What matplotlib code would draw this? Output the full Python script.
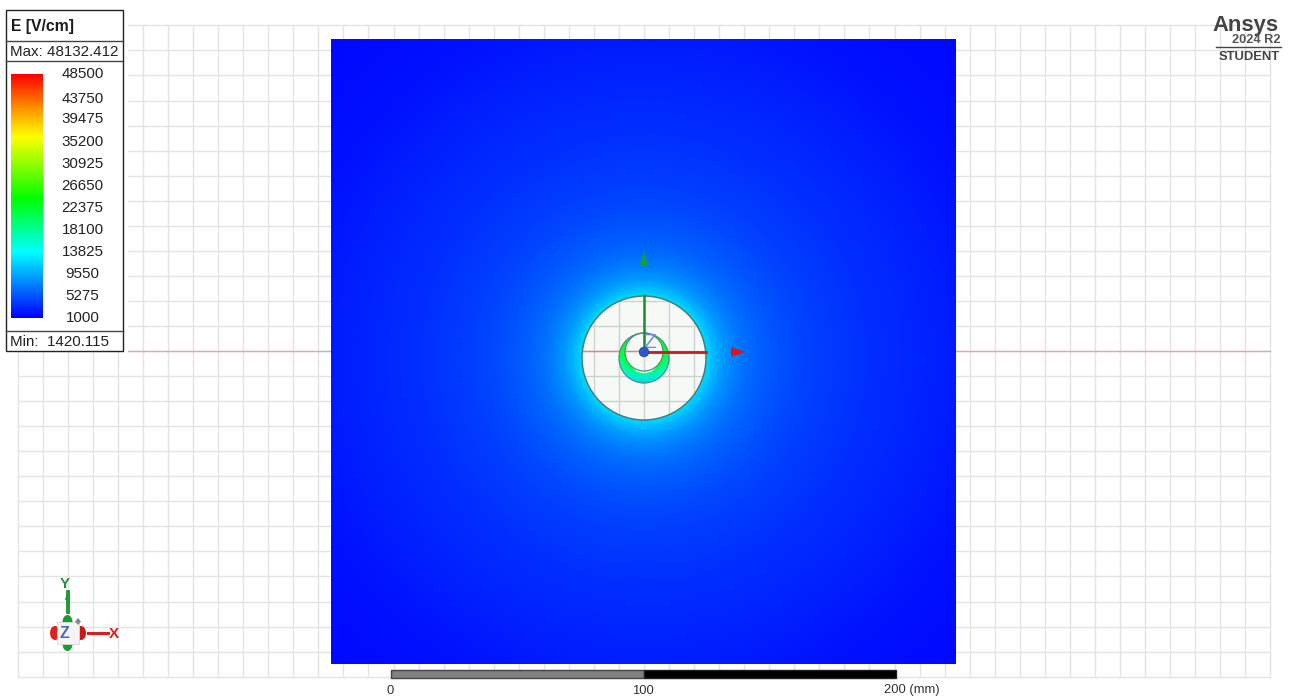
import numpy as np
import matplotlib
matplotlib.use("Agg")
import matplotlib.pyplot as plt
from matplotlib.colors import LinearSegmentedColormap, Normalize
from matplotlib.patches import Circle, Rectangle, Polygon, Ellipse
from matplotlib.path import Path
from matplotlib.patches import PathPatch

plt.rcParams["font.family"] = ["Liberation Sans", "DejaVu Sans"]

# legend
legend_labels = ["48500", "43750", "39475", "35200", "30925", "26650",
                 "22375", "18100", "13825", "9550", "5275", "1000"]
legend_y = [74, 98.5, 118.5, 142, 164, 185.5, 208, 229, 252, 274, 296, 318]
legend_title = "E [V/cm]"
max_text = "Max: 48132.412"
min_text = "Min:  1420.115"

# colour scale, levels
cmap_levels = [1000, 13825, 24300, 36300, 42000, 48500]
cmap_colors = ["#0000ff", "#00ffff", "#00ff00", "#ffff00", "#ff9000", "#ff0000"]

# field outside the conductor: distance from centre (px) and E value
field_r = [55, 62, 66, 72, 80, 90, 100, 115, 130, 150, 175, 200, 230, 260, 300, 350, 400, 470]
field_e = [12000, 12000, 11200, 9900, 8600, 7500, 6700, 5900, 5300, 4700, 4100, 3700, 3300, 2950, 2500, 2000, 1600, 1420]

# crescent field: rows = radius (inner, outer), columns = angle from +x (deg)
crescent_theta = [-90, -60, -30, 0, 30, 60, 80, 90, 100, 120, 150, 180, 210, 240, 270]
crescent_inner = [17500, 19000, 22000, 25000, 25000, 24000, 24000, 24000, 24000, 24000, 25000, 25000, 22000, 19000, 17500]
crescent_outer = [11500, 12500, 15000, 19000, 22500, 23000, 23000, 23000, 23000, 23000, 22500, 19000, 15000, 12500, 11500]

# scale bar
scale_ticks = ["0", "100", "200 (mm)"]

W, H = 1290, 698
CX, CY = 644, 351
STEP = 25.05

fig = plt.figure(figsize=(W / 100, H / 100), dpi=100)
ax = fig.add_axes([0, 0, 1, 1])
ax.set_xlim(0, W)
ax.set_ylim(H, 0)
ax.axis("off")

norm = Normalize(1000, 48500)
cmap = LinearSegmentedColormap.from_list(
    "ansys", [((v - 1000) / 47500, c) for v, c in zip(cmap_levels, cmap_colors)], N=512)

# background grid
grid_c = "#e4e4e4"
xs = [CX + STEP * k for k in range(-25, 26)]
ys = [CY + STEP * k for k in range(-13, 14)]
for x in xs:
    ax.plot([x, x], [ys[0], ys[-1]], color=grid_c, lw=1, zorder=1)
for y in ys:
    ax.plot([xs[0], xs[-1]], [y, y], color=grid_c, lw=1, zorder=1)
ax.plot([128, 1270], [CY, CY], color="#e6a6a6", lw=1, zorder=1.5)
# white block behind the legend
ax.add_patch(Rectangle((0, 0), 128, 352, fc="white", ec="none", zorder=2))

# field square
th = np.radians(np.linspace(0, 360, 145))
R, T = np.meshgrid(field_r, th)
FX = 644 + R * np.cos(T)
FY = 358 + R * np.sin(T)
FE = np.tile(field_e, (len(th), 1))
square = Rectangle((331, 39), 625, 625, fc="none", ec="none", zorder=3)
ax.add_patch(square)
mesh = ax.pcolormesh(FX, FY, FE, shading="gouraud", cmap=cmap, norm=norm, zorder=3)
mesh.set_clip_path(square)

# insulator disk with the grid showing through
disk = Circle((644, 358), 62, fc="#f6f9f6", ec="none", zorder=4)
ax.add_patch(disk)
for x in xs:
    line, = ax.plot([x, x], [ys[0], ys[-1]], color="#cdd3cd", lw=1, zorder=4.1)
    line.set_clip_path(disk)
for y in ys:
    line, = ax.plot([xs[0], xs[-1]], [y, y], color="#cdd3cd", lw=1, zorder=4.1)
    line.set_clip_path(disk)
ax.plot([582, 644], [CY, CY], color="#d08a8a", lw=1, zorder=4.2)
ax.add_patch(Circle((644, 358), 62, fc="none", ec="#3f7f80", lw=1.1, zorder=4.3))

# crescent between outer conductor and the inner one
outer = Path.circle((644, 358), 25)
inner = Path.circle((644, 352), 19)
inner_rev = Path(inner.vertices[::-1], inner.codes)
crescent = Path.make_compound_path(outer, inner_rev)
cres_patch = PathPatch(crescent, fc="none", ec="none", transform=ax.transData, zorder=5)
ax.add_patch(cres_patch)
ct = np.radians(crescent_theta)
CR, CT = np.meshgrid([16, 25], ct)
# angle is measured upward on screen, hence the minus on y
mesh2 = ax.pcolormesh(644 + CR * np.cos(CT), 358 - CR * np.sin(CT),
                      np.column_stack([crescent_inner, crescent_outer]),
                      shading="gouraud", cmap=cmap, norm=norm, zorder=5)
mesh2.set_clip_path(cres_patch)
ax.add_patch(Circle((644, 358), 25, fc="none", ec="#4f8f80", lw=0.9, zorder=5.1))
ax.add_patch(Circle((644, 352), 19, fc="none", ec="#4f8f80", lw=0.9, zorder=5.1))

# centre triad
ax.plot([643.5, 643.5], [295, 351], color="#1f8a2e", lw=1.8, zorder=6)
ax.plot([644, 706], [352, 352], color="#d01818", lw=2, zorder=6)
ax.add_patch(Polygon([[640, 265], [644, 251], [648, 265]], fc="#14a030", ec="none", zorder=6))
ax.add_patch(Polygon([[731, 347], [745, 352], [731, 357]], fc="#dd1515", ec="none", zorder=6))
ax.text(650, 343, "Z", color="#6f8fe0", fontsize=15, ha="center", va="center", zorder=6.5)
ax.add_patch(Circle((644, 352), 4.8, fc="#2f55c8", ec="#20409a", lw=0.5, zorder=7))

# legend box
ax.add_patch(Rectangle((5.5, 10), 117, 341, fc="white", ec="#222222", lw=1, zorder=8))
for y in [41, 61, 330.5]:
    ax.plot([5.5, 122.5], [y, y], color="#444444", lw=1, zorder=8.1)
ax.text(11, 26, legend_title, fontsize=11.3, fontweight="bold", color="#1c1c1c", va="center", zorder=9)
ax.text(10, 51.5, max_text, fontsize=10.9, color="#222222", va="center", zorder=9)
ax.text(10, 341.5, min_text, fontsize=10.9, color="#222222", va="center", zorder=9)
bar_vals = np.linspace(48500, 1000, 256).reshape(-1, 1)
ax.imshow(bar_vals, extent=(11, 43, 318, 74), cmap=cmap, norm=norm, aspect="auto", zorder=9)
ax.set_xlim(0, W)
ax.set_ylim(H, 0)
for lab, y in zip(legend_labels, legend_y):
    ax.text(82.5, y + 0.5, lab, fontsize=10.9, color="#222222", ha="center", va="center", zorder=9)

# logo text
ax.text(1279, 25.5, "Ansys", fontsize=15.8, fontweight="bold", color="#444444", ha="right", va="center", zorder=9)
ax.text(1280, 40, "2024 R2", fontsize=9.2, fontweight="bold", color="#555555", ha="right", va="center", zorder=9)
ax.plot([1216, 1281], [47, 47], color="#444444", lw=1, zorder=9)
ax.text(1279.5, 57.5, "STUDENT", fontsize=9.4, fontweight="bold", color="#444444", ha="right", va="center", zorder=9)

# bottom-left triad
ax.plot([67.5, 67.5], [592, 612], color="#1f9a35", lw=2.8, zorder=6)
ax.add_patch(Polygon([[65, 600], [67.5, 590], [70, 600]], fc="#1f9a35", ec="none", zorder=6))
ax.add_patch(Ellipse((67.5, 622), 10, 14, fc="#1a9a30", ec="none", zorder=6))
ax.add_patch(Ellipse((67.5, 644), 10, 14, fc="#1a9a30", ec="none", zorder=6))
ax.add_patch(Ellipse((55, 633), 10, 14, fc="#dd2222", ec="none", zorder=6))
ax.add_patch(Ellipse((81, 633), 10, 14, fc="#c81818", ec="none", zorder=6))
ax.add_patch(Rectangle((57, 622), 22, 22, fc="#f4f4f4", ec="#d8d8d8", lw=0.6, zorder=6.5))
ax.plot([88, 108], [632.5, 632.5], color="#d62020", lw=2.2, zorder=6)
ax.add_patch(Polygon([[78, 618], [81, 621.5], [78, 625], [75, 621.5]], fc="#888888", ec="none", zorder=6.6))
ax.text(64, 633, "Z", color="#4a66c4", fontsize=11.5, fontweight="bold", ha="center", va="center", zorder=7)
ax.text(64.5, 584, "Y", color="#2a8a45", fontsize=11, fontweight="bold", ha="center", va="center", zorder=7)
ax.text(114, 633.5, "X", color="#d62020", fontsize=11, fontweight="bold", ha="center", va="center", zorder=7)

# scale bar
ax.add_patch(Rectangle((391, 670), 253, 8, fc="#808080", ec="#444444", lw=1, zorder=7))
ax.add_patch(Rectangle((644, 670), 252, 8, fc="#000000", ec="#222222", lw=1, zorder=7))
ax.text(390, 690.5, scale_ticks[0], fontsize=9.4, color="#333333", ha="center", va="center", zorder=9)
ax.text(643, 690.5, scale_ticks[1], fontsize=9.4, color="#333333", ha="center", va="center", zorder=9)
ax.text(884, 690.5, scale_ticks[2], fontsize=9.4, color="#333333", ha="left", va="center", zorder=9)

fig.savefig("out.png", dpi=100)
